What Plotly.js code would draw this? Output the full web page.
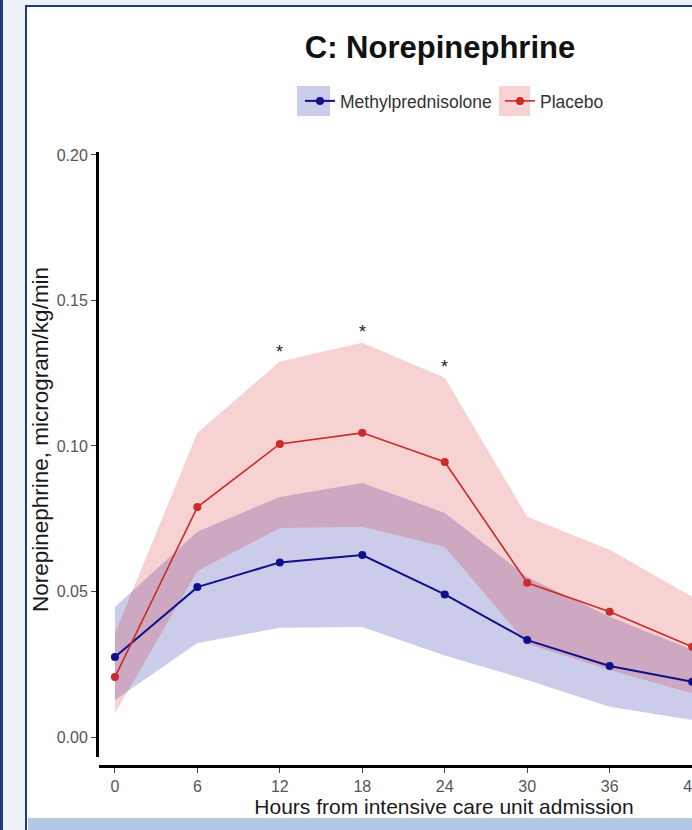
<!DOCTYPE html>
<html>
<head>
<meta charset="utf-8">
<script src="https://cdn.plot.ly/plotly-3.0.1.min.js"></script>
<style>
  html, body { margin:0; padding:0; width:692px; height:830px; overflow:hidden; background:#edf2f9; }
  #leftstrip { position:absolute; left:0; top:0; width:3px; height:830px; background:#1f3a78; }
  #panel { position:absolute; left:25px; top:5px; width:720px; height:840px; background:#ffffff; border:2.5px solid #1f3a78; box-sizing:border-box; }
  #chart { position:absolute; left:0; top:0; width:800px; height:830px; }
  #bottomstrip { position:absolute; left:28px; top:818px; width:680px; height:12px; background:#b4c7e7; z-index:10; }
</style>
</head>
<body>
<div id="leftstrip"></div>
<div id="panel"></div>
<div id="chart"></div>
<div id="bottomstrip"></div>
<script>
// ---- data ----
const hours = [0, 6, 12, 18, 24, 30, 36, 42];
const methylMean  = [0.0275, 0.0515, 0.0600, 0.0625, 0.0490, 0.0333, 0.0244, 0.0190];
const methylUpper = [0.0447, 0.0705, 0.0825, 0.0873, 0.0770, 0.0550, 0.0413, 0.0300];
const methylLower = [0.0127, 0.0323, 0.0375, 0.0378, 0.0280, 0.0196, 0.0104, 0.0058];
const placeboMean  = [0.0206, 0.0790, 0.1007, 0.1045, 0.0945, 0.0530, 0.0430, 0.0310];
const placeboUpper = [0.0357, 0.1045, 0.1290, 0.1355, 0.1234, 0.0757, 0.0643, 0.0482];
const placeboLower = [0.0082, 0.0570, 0.0718, 0.0722, 0.0654, 0.0320, 0.0230, 0.0150];
const starHours = [12, 18, 24];
const starY = [0.1335, 0.1405, 0.1285];
const xTicks = [0, 6, 12, 18, 24, 30, 36, 42, 48];
const yTicks = [0.00, 0.05, 0.10, 0.15, 0.20];
const yTickText = ['0.00', '0.05', '0.10', '0.15', '0.20'];

const BLUE = '#10108a';
const RED = '#cc2b2b';
const BLUE_FILL = 'rgba(20,20,160,0.22)';
const RED_FILL = 'rgba(215,50,50,0.22)';
const FONT = 'Liberation Sans, Arial, sans-serif';

function band(lower, upper, color) {
  return {
    x: hours.concat(hours.slice().reverse()),
    y: upper.concat(lower.slice().reverse()),
    type: 'scatter', mode: 'lines', fill: 'toself', fillcolor: color,
    line: { width: 0 }, hoverinfo: 'skip', showlegend: false
  };
}

const traces = [
  band(methylLower, methylUpper, BLUE_FILL),
  band(placeboLower, placeboUpper, RED_FILL),
  { x: hours, y: methylMean, type: 'scatter', mode: 'lines+markers', name: 'Methylprednisolone',
    legend: 'legend', line: { color: BLUE, width: 2 }, marker: { color: BLUE, size: 8 } },
  { x: hours, y: placeboMean, type: 'scatter', mode: 'lines+markers', name: 'Placebo',
    legend: 'legend2', line: { color: RED, width: 1.6 }, marker: { color: RED, size: 8 } }
];

// geometry helpers (paper coords)
const L = 99, R = 11, T = 152, B = 64, W = 800, H = 830;
const pw = W - L - R, ph = H - T - B;
const px = v => (v - L) / pw;
const py = v => (H - B - v) / ph;

const annotations = starHours.map((h, i) => ({
  x: h, y: starY[i], xref: 'x', yref: 'y', text: '*', showarrow: false,
  font: { family: FONT, size: 18, color: '#222' }, yshift: -4
}));
annotations.push({
  x: px(40), y: py(440), xref: 'paper', yref: 'paper', xanchor: 'center', yanchor: 'middle',
  text: 'Norepinephrine, microgram/kg/min', textangle: -90, showarrow: false,
  font: { family: FONT, size: 22.5, color: '#1a1a1a' }
});

const legendCommon = { orientation: 'h', xanchor: 'left', y: py(101), yanchor: 'middle',
  font: { size: 17.5, color: '#333', family: FONT }, bgcolor: 'rgba(0,0,0,0)', itemclick: false };

const layout = {
  width: W, height: H,
  margin: { l: L, r: R, t: T, b: B, pad: 0 },
  paper_bgcolor: 'rgba(0,0,0,0)', plot_bgcolor: 'rgba(0,0,0,0)',
  font: { family: FONT, color: '#222' },
  title: { text: '<b>C: Norepinephrine</b>', x: px(440), xref: 'paper', xanchor: 'center',
           y: 1 - 47 / H, yref: 'container', yanchor: 'middle',
           font: { size: 31, color: '#111', family: FONT } },
  showlegend: true,
  legend: Object.assign({ x: px(300) }, legendCommon),
  legend2: Object.assign({ x: px(500) }, legendCommon),
  xaxis: {
    range: [-1.16, 49.05], anchor: 'free', position: 0,
    showline: true, linewidth: 3, linecolor: '#000', mirror: false,
    showgrid: false, zeroline: false,
    ticks: 'outside', ticklen: 5, tickwidth: 1, tickcolor: '#444',
    tickvals: xTicks, ticktext: xTicks.map(String),
    tickfont: { size: 16, color: '#555' },
    title: { text: 'Hours from intensive care unit admission', standoff: 4,
             font: { size: 21, color: '#1a1a1a' } }
  },
  yaxis: {
    domain: [9 / ph, 1],
    range: [-0.00687, 0.2010],
    showline: true, linewidth: 3, linecolor: '#000',
    showgrid: false, zeroline: false,
    ticks: 'outside', ticklen: 5, tickwidth: 1, tickcolor: '#444',
    tickvals: yTicks, ticktext: yTickText,
    tickfont: { size: 16, color: '#555' }
  },
  annotations: annotations,
  shapes: [
    { type: 'rect', xref: 'paper', yref: 'paper', x0: px(297), x1: px(330), y0: py(116), y1: py(86),
      fillcolor: BLUE_FILL, line: { width: 0 }, layer: 'above' },
    { type: 'rect', xref: 'paper', yref: 'paper', x0: px(499), x1: px(530), y0: py(116), y1: py(86),
      fillcolor: RED_FILL, line: { width: 0 }, layer: 'above' }
  ]
};

Plotly.newPlot('chart', traces, layout, { displayModeBar: false, staticPlot: true });
</script>
</body>
</html>
